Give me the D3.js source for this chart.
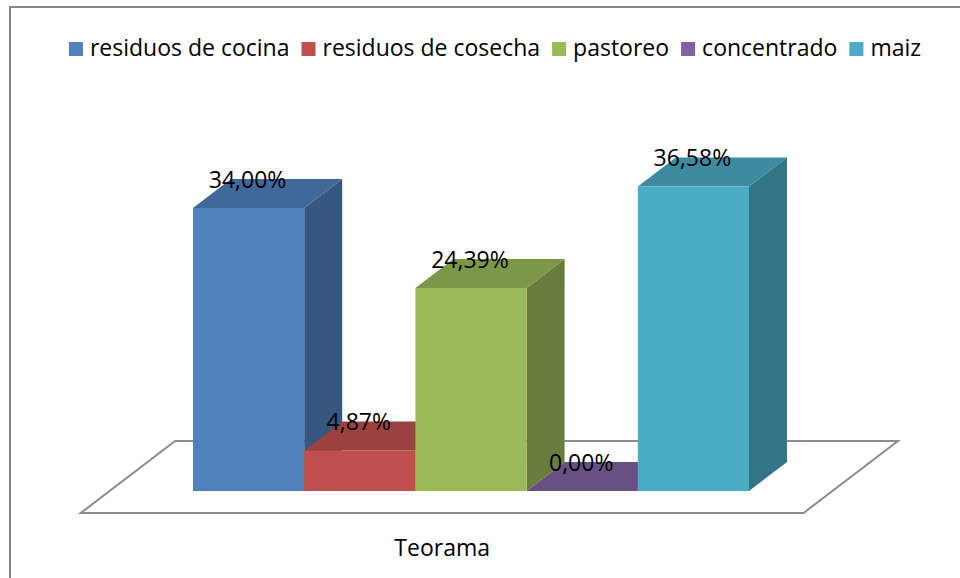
<!DOCTYPE html>
<html>
<head>
<meta charset="utf-8">
<script src="https://cdn.jsdelivr.net/npm/d3@7"></script>
<style>
  body { margin: 0; background: #fff; }
  svg { display: block; font-family: "Open Sans", "Liberation Sans", sans-serif; }
</style>
</head>
<body>
<svg id="chart" width="960" height="578"></svg>
<script>
const categories = ["residuos de cocina", "residuos de cosecha", "pastoreo", "concentrado", "maiz"];
const values = [34.00, 4.87, 24.39, 0.00, 36.58];
const colors = ["#4F81BD", "#C0504D", "#9BBB59", "#8064A2", "#4BACC6"];
const axisLabel = "Teorama";

const width = 960, height = 578;
const base = 491;               // front baseline of the bars
const depth = { dx: 38, dy: 29 };  // 3d offset of a bar

const svg = d3.select("#chart");

// chart frame (right and bottom edges fall outside the picture)
svg.append("rect")
    .attr("x", 10).attr("y", 7)
    .attr("width", 1000).attr("height", 620)
    .attr("fill", "#fff")
    .attr("stroke", "#868686")
    .attr("stroke-width", 2);

const x = d3.scaleBand()
    .domain(categories)
    .range([193, 749])
    .padding(0);

const y = d3.scaleLinear()
    .domain([0, 40])
    .range([base, base - 333]);

const bw = x.bandwidth();

// floor: extends in front of and behind the bars
const k = depth.dx / depth.dy;
const fFront = 22, fBack = 50;
const fx0 = x.range()[0] - 0.75 * bw, fx1 = x.range()[1] + 0.75 * bw;
const floorPts = [
    [fx0 - fFront * k, base + fFront],
    [fx1 - fFront * k, base + fFront],
    [fx1 + fBack * k, base - fBack],
    [fx0 + fBack * k, base - fBack]
];
svg.append("polygon")
    .attr("points", floorPts.map(p => p.join(",")).join(" "))
    .attr("fill", "#fff")
    .attr("stroke", "#8c8c8c")
    .attr("stroke-width", 2)
    .attr("stroke-linejoin", "miter");

const data = categories.map((c, i) => ({ cat: c, value: values[i], color: colors[i] }));

const bars = svg.append("g").selectAll("g")
    .data(data)
    .join("g");

// side face
bars.append("polygon")
    .attr("points", d => {
        const x1 = x(d.cat) + bw, yt = y(d.value);
        return [[x1, yt], [x1 + depth.dx, yt - depth.dy], [x1 + depth.dx, base - depth.dy], [x1, base]]
            .map(p => p.join(",")).join(" ");
    })
    .attr("fill", d => d3.color(d.color).darker(1.1));

// top face
bars.append("polygon")
    .attr("points", d => {
        const x0 = x(d.cat), yt = y(d.value);
        return [[x0, yt], [x0 + bw, yt], [x0 + bw + depth.dx, yt - depth.dy], [x0 + depth.dx, yt - depth.dy]]
            .map(p => p.join(",")).join(" ");
    })
    .attr("fill", d => d3.color(d.color).darker(0.6));

// front face
bars.append("rect")
    .attr("x", d => x(d.cat))
    .attr("y", d => y(d.value))
    .attr("width", bw)
    .attr("height", d => base - y(d.value))
    .attr("fill", d => d.color);

// data labels
const fmt = d3.format(".2f");
svg.append("g").selectAll("text")
    .data(data)
    .join("text")
    .attr("x", d => x(d.cat) + bw / 2 - 1)
    .attr("y", d => y(d.value) - 20)
    .attr("text-anchor", "middle")
    .attr("font-size", "23px")
    .attr("fill", "#000")
    .text(d => fmt(d.value).replace(".", ",") + "%");

// category label
svg.append("text")
    .attr("x", (floorPts[0][0] + floorPts[1][0]) / 2)
    .attr("y", 556)
    .attr("text-anchor", "middle")
    .attr("font-size", "23px")
    .text(axisLabel);

// legend, centred
const legend = svg.append("g");
const items = legend.selectAll("g")
    .data(data)
    .join("g");
items.append("rect")
    .attr("y", 42)
    .attr("width", 14)
    .attr("height", 14)
    .attr("fill", d => d.color);
items.append("text")
    .attr("x", 21)
    .attr("y", 56)
    .attr("font-size", "23px")
    .text(d => d.cat);

let cx = 0;
items.each(function () {
    const w = d3.select(this).select("text").node().getComputedTextLength();
    d3.select(this).attr("transform", `translate(${cx},0)`);
    cx += 21 + w + 12;
});
const legendW = cx - 12;
legend.attr("transform", `translate(${495 - legendW / 2},0)`);
</script>
</body>
</html>
